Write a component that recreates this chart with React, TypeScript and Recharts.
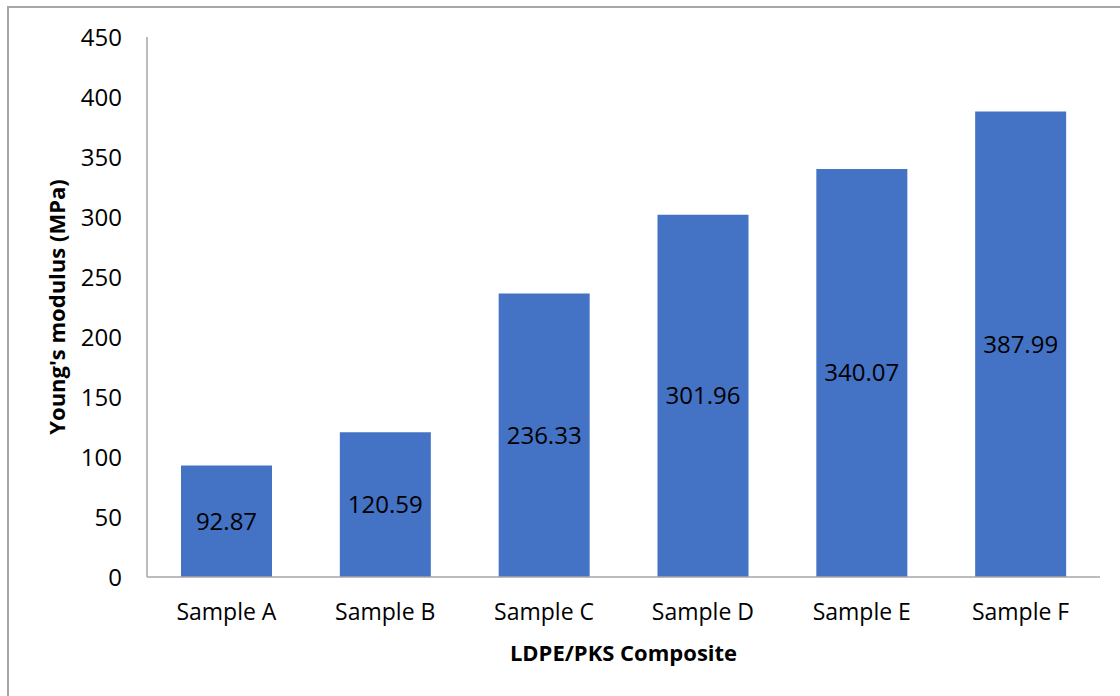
import { BarChart, Bar, XAxis, YAxis, LabelList } from 'recharts';

const samples = ['Sample A', 'Sample B', 'Sample C', 'Sample D', 'Sample E', 'Sample F'];
const youngsModulus = [92.87, 120.59, 236.33, 301.96, 340.07, 387.99];
const yTicks = [0, 50, 100, 150, 200, 250, 300, 350, 400, 450];

const data = samples.map((name, i) => ({ name, modulus: youngsModulus[i] }));

const FONT = "'Open Sans', 'Noto Sans', sans-serif";
const AXIS_GRAY = '#a6a6a6';

export default function App() {
  return (
    <div style={{ position: 'absolute', left: 0, top: 0, width: 1120, height: 696, overflow: 'hidden', background: '#fff' }}>
      <div
        style={{
          position: 'absolute',
          left: 7,
          top: 6,
          width: 1200,
          height: 800,
          border: `2px solid ${AXIS_GRAY}`,
          boxSizing: 'border-box',
        }}
      />
      <div style={{ position: 'absolute', left: 0, top: 0 }}>
        <BarChart
          width={1120}
          height={696}
          data={data}
          margin={{ top: 37, right: 20, bottom: 59, left: 0 }}
          style={{ fontFamily: FONT }}
        >
          <XAxis
            dataKey="name"
            height={60}
            tickLine={false}
            tickSize={0}
            tickMargin={27}
            axisLine={{ stroke: AXIS_GRAY, strokeWidth: 1.5 }}
            tick={{ fill: '#000', fontSize: 23, fontFamily: FONT }}
            label={{
              value: 'LDPE/PKS Composite',
              position: 'bottom',
              offset: 8,
              style: { fill: '#000', fontSize: 22, fontWeight: 700, fontFamily: FONT },
            }}
          />
          <YAxis
            width={147}
            domain={[0, 450]}
            ticks={yTicks}
            interval={0}
            tickLine={false}
            tickSize={0}
            tickMargin={25}
            axisLine={{ stroke: AXIS_GRAY, strokeWidth: 1.5 }}
            tick={{ fill: '#000', fontSize: 24, fontFamily: FONT }}
            label={{
              value: "Young's modulus (MPa)",
              angle: -90,
              position: 'insideLeft',
              offset: 57,
              style: { textAnchor: 'middle', fill: '#000', fontSize: 22, fontWeight: 700, fontFamily: FONT },
            }}
          />
          <Bar dataKey="modulus" fill="#4472c4" barSize={91} isAnimationActive={false}>
            <LabelList
              dataKey="modulus"
              position="center"
              fill="#000"
              style={{ fontSize: 24, fontFamily: FONT }}
            />
          </Bar>
        </BarChart>
      </div>
    </div>
  );
}
